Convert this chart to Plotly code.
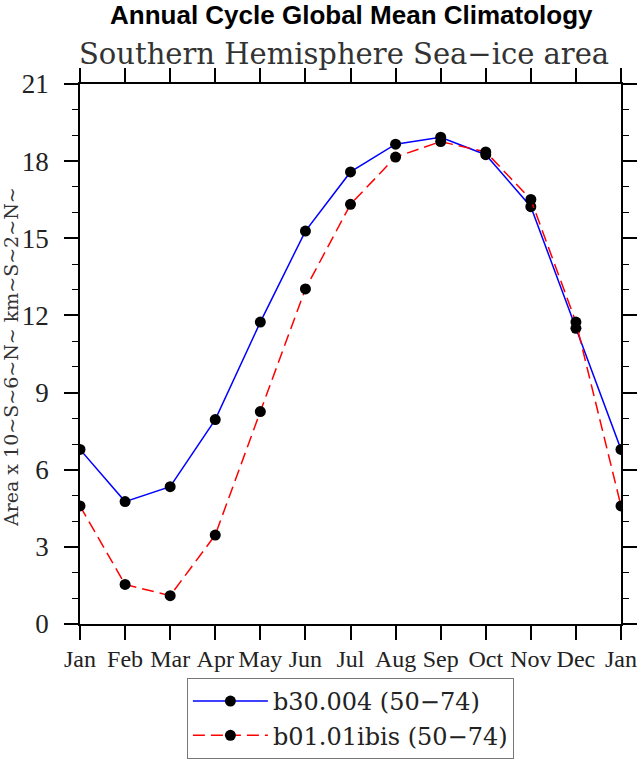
import plotly.graph_objects as go

# --- Data ---
months = ["Jan", "Feb", "Mar", "Apr", "May", "Jun", "Jul",
          "Aug", "Sep", "Oct", "Nov", "Dec", "Jan"]
month_pos = list(range(len(months)))

b30_004 = [6.79, 4.76, 5.34, 7.95, 11.74, 15.28, 17.58,
           18.66, 18.93, 18.25, 16.23, 11.50, 6.79]
b01_01ibis = [4.59, 1.54, 1.10, 3.46, 8.26, 13.03, 16.32,
              18.16, 18.76, 18.36, 16.51, 11.74, 4.59]

y_ticks = [0, 3, 6, 9, 12, 15, 18, 21]

# --- Plot ---
fig = go.Figure()

fig.add_trace(go.Scatter(
    x=month_pos, y=b30_004, name="b30.004 (50\u221274)",
    mode="lines+markers",
    line=dict(color="blue", width=1.5),
    marker=dict(color="black", size=11),
))
fig.add_trace(go.Scatter(
    x=month_pos, y=b01_01ibis, name="b01.01ibis (50\u221274)",
    mode="lines+markers",
    line=dict(color="red", width=1.5, dash="12px,6px"),
    marker=dict(color="black", size=11),
))

fig.update_layout(
    width=638, height=759,
    margin=dict(l=80, r=16.5, t=84, b=135, autoexpand=False),
    plot_bgcolor="white", paper_bgcolor="white",
    showlegend=True,
    legend=dict(
        x=0.1976, y=-0.1, xanchor="left", yanchor="top",
        bordercolor="#777777", borderwidth=1,
        font=dict(family="DejaVu Serif", size=24, color="#222222"),
        itemwidth=75, tracegroupgap=0,
    ),
    xaxis=dict(
        range=[0, 12], tickvals=month_pos, ticktext=months,
        showline=True, linecolor="black", linewidth=1.5, mirror="ticks",
        ticks="outside", ticklen=14, tickwidth=1.5, tickcolor="black",
        showgrid=False, zeroline=False, automargin=False,
        tickfont=dict(family="Liberation Serif", size=24, color="#222222"),
        ticklabelstandoff=-2,
    ),
    yaxis=dict(
        range=[0, 21], tickvals=y_ticks,
        showline=True, linecolor="black", linewidth=1.5, mirror="ticks",
        ticks="outside", ticklen=14, tickwidth=1.5, tickcolor="black",
        minor=dict(dtick=1, ticks="outside", ticklen=6, tickwidth=1,
                   tickcolor="black", showgrid=False),
        showgrid=False, zeroline=False, automargin=False,
        tickfont=dict(family="Liberation Serif", size=27, color="#222222"),
        ticklabelstandoff=10,
    ),
)

fig.add_annotation(
    text="<b>Annual Cycle Global Mean Climatology</b>",
    xref="paper", yref="paper", x=(352 - 80) / 541.5, y=1 + (84 - 15) / 540,
    xanchor="center", yanchor="middle", showarrow=False,
    font=dict(family="Liberation Sans", size=26, color="black"),
)
fig.add_annotation(
    text="Southern Hemisphere Sea\u2212ice area",
    xref="paper", yref="paper", x=(344 - 80) / 541.5, y=1 + (84 - 54) / 540,
    xanchor="center", yanchor="middle", showarrow=False,
    font=dict(family="DejaVu Serif", size=29, color="#333333"),
)
fig.add_annotation(
    text="Area x 10~S~6~N~ km~S~2~N~",
    xref="paper", yref="paper", x=(11 - 80) / 541.5, y=(624 - 357) / 540,
    xanchor="center", yanchor="middle", showarrow=False, textangle=-90,
    font=dict(family="DejaVu Serif", size=19, color="#333333"),
)

# drop the browser's default body margin so the figure fills the window
fig.write_html("out.html", config={"displayModeBar": False},
               post_script="document.body.style.margin='0';")
